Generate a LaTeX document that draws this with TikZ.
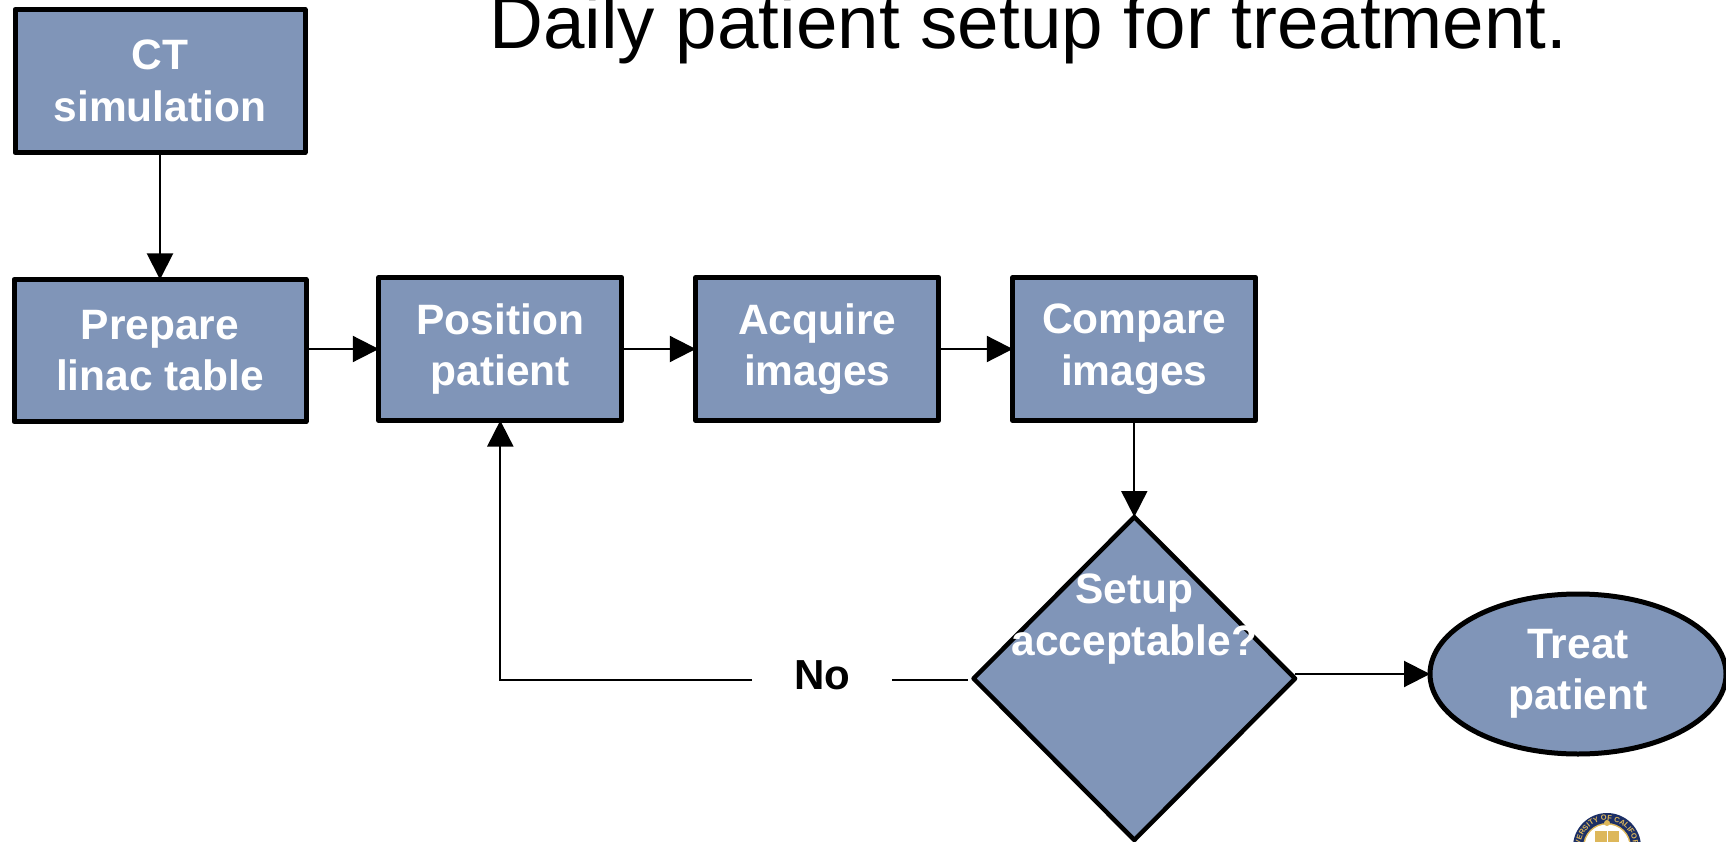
\documentclass[tikz,border=0pt]{standalone}
\usepackage{fontspec}
\setmainfont{Liberation Sans}
\usetikzlibrary{arrows.meta,calc,shapes.geometric,decorations.text}

\definecolor{stepblue}{HTML}{8095B8}
\definecolor{sealnavy}{HTML}{1C2F66}
\definecolor{sealgold}{HTML}{DDB75A}

\tikzset{
    stepbox/.style = {draw, line width=5pt, line join=round, fill=stepblue, text=white,
        font=\fontsize{42.5}{51.5}\selectfont\bfseries, align=center, inner sep=0pt, outer sep=0pt,
        minimum width=243pt, minimum height=143pt, execute at begin node={\rule{0pt}{43pt}}},
    decision/.style = {draw, line width=4.5pt, line join=round, fill=stepblue, text=white,
        font=\fontsize{42.5}{51.5}\selectfont\bfseries, inner sep=0pt, outer sep=0pt,
        diamond, minimum width=321.5pt, minimum height=323pt},
    finish/.style = {stepbox, ellipse, minimum width=296pt, minimum height=160pt,
        execute at begin node={\rule{0pt}{45pt}}}
}

\begin{document}
\begin{tikzpicture}[
            x = 1pt, y = -1pt, % pixels of the slide
            > = {Triangle[length=26pt,width=26pt]}, % arrow head style
            line width = 2pt,
            node distance = 317pt % distance between box centres
        ]

    \useasboundingbox (0,0) rectangle (1726,842);

    \node[anchor=base, font=\fontsize{74.6}{80}\selectfont] (title) at (1028.5,49) {Daily patient setup for treatment.};

    \node[stepbox, minimum width=290pt, execute at begin node={\rule{0pt}{38pt}}] (ct) at (160,81) {CT\\simulation};
    \node[stepbox, minimum width=292pt, minimum height=142pt, execute at begin node={\rule{0pt}{42pt}}] (prepare) at (160,350.5) {Prepare\\linac table};
    \node[stepbox] (position) at (500.3,349) {Position\\patient};
    \node[stepbox, right of=position] (acquire) {Acquire\\images};
    \node[stepbox, right of=acquire] (compare) {Compare\\images};

    \node[decision] (decide) at (1134.3,678.5) {\smash{\makebox[0pt]{\raisebox{23pt}{\shortstack{Setup\\[9pt]acceptable?}}}}};
    \node[finish] (treat) at (1578,674) {Treat\\patient};
    \node[minimum width=138pt, inner sep=0pt, font=\fontsize{42}{51}\selectfont\bfseries] (no) at (822,680) {\smash{\raisebox{-9.5pt}{No}}};

    \draw[->] (ct) -- (prepare);
    \draw[->] (prepare.east |- position) -- (position);
    \draw[->] (position) -- (acquire);
    \draw[->] (acquire) -- (compare);
    \draw[->] (compare) -- (decide);
    \draw[->] (decide.east |- treat) -- (treat);
    \draw[shorten >=6pt] (no.east) -- (no.east -| decide.west);
    \draw[->] (no.west) -| (position);

    % seal in the corner
    \coordinate (seal) at (1607,847);
    \fill[sealnavy] (seal) circle[radius=34pt];
    \fill[sealgold] (seal) circle[radius=24pt];
    \fill[white] (seal) circle[radius=22.5pt];
    \fill[sealgold] (1595,831) rectangle (1619,842);
    \fill[sealgold] (1607,823) circle[radius=3pt];
    \draw[white, line width=1pt] (1607,831) -- (1607,842);
    \path[decorate, decoration={text along path, text align=center,
        text={|\fontsize{7.5}{8}\selectfont\bfseries\color{sealgold}|UNIVERSITY OF CALIFORNIA}}]
        ($(seal)+(205:26.5pt)$) arc[start angle=205, end angle=-25, radius=26.5pt];

\end{tikzpicture}
\end{document}
